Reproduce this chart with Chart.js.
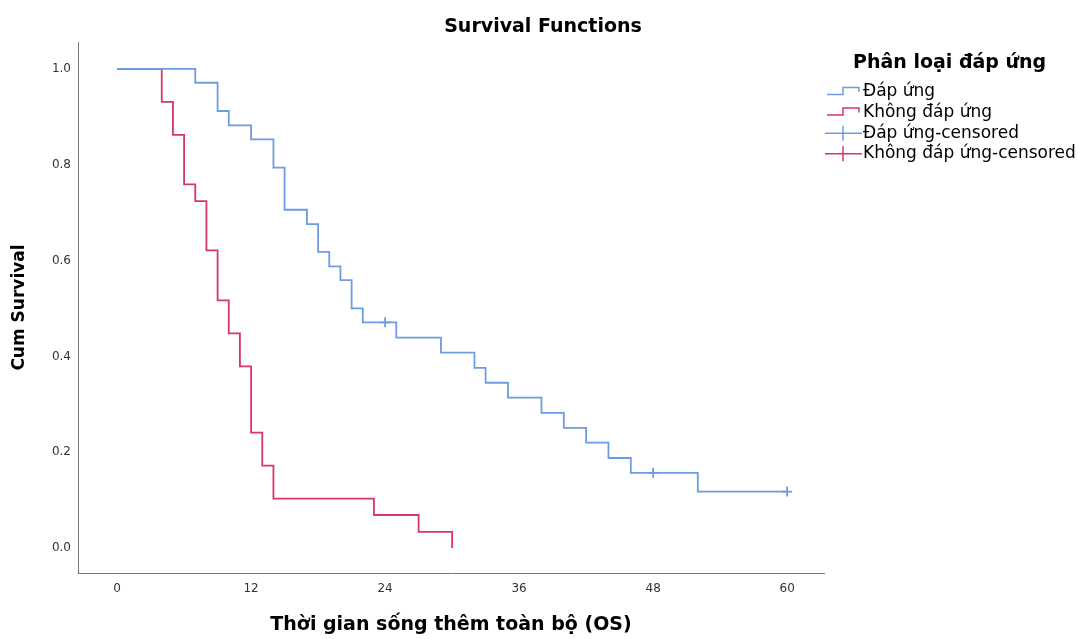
<!DOCTYPE html>
<html>
<head>
<meta charset="utf-8">
<title>Survival Functions</title>
<script src="https://cdn.jsdelivr.net/npm/chart.js"></script>
<style>
  html, body { margin: 0; padding: 0; background: #fff; }
  #wrap { width: 1078px; height: 639px; }
</style>
</head>
<body>
<div id="wrap"><canvas id="chart"></canvas></div>
<script>
// Kaplan-Meier steps (months -> cum survival)
const respTimes = [0, 7, 9, 10, 12, 14, 15, 17, 18, 19, 20, 21, 22, 25, 29, 32, 33, 35, 38, 40, 42, 44, 46, 52, 60];
const respSurv = [1.0, 0.971, 0.912, 0.882, 0.853, 0.794, 0.706, 0.676, 0.618, 0.588, 0.559, 0.500, 0.471, 0.439, 0.408, 0.376, 0.345, 0.314, 0.282, 0.251, 0.220, 0.188, 0.157, 0.118, 0.118];

const nonRespTimes = [0, 4, 5, 6, 7, 8, 9, 10, 11, 12, 13, 14, 23, 27, 30];
const nonRespSurv = [1.0, 0.931, 0.862, 0.759, 0.724, 0.621, 0.517, 0.448, 0.379, 0.241, 0.172, 0.103, 0.069, 0.034, 0.0];

// censored cases
const respCensTimes = [24, 48, 60];
const respCensSurv = [0.471, 0.157, 0.118];
const nonRespCensTimes = [];
const nonRespCensSurv = [];

const xTicks = [0, 12, 24, 36, 48, 60];
const yTicks = [0, 0.2, 0.4, 0.6, 0.8, 1.0];

const seriesLabels = ['Đáp ứng', 'Không đáp ứng', 'Đáp ứng-censored', 'Không đáp ứng-censored'];
const legendTitle = 'Phân loại đáp ứng';

const BLUE = '#6c9ce2';
const RED = '#d6366a';
const FONT = '"DejaVu Sans", sans-serif';

const toPoints = (xs, ys) => xs.map((x, i) => ({ x: x, y: ys[i] }));

// legend drawn by hand so it can sit right next to the plot like SPSS does
const kmLegend = {
  id: 'kmLegend',
  afterDraw(chart) {
    const ctx = chart.ctx;
    const gx = chart.chartArea.right + 3;
    ctx.save();
    ctx.fillStyle = '#000';
    ctx.textBaseline = 'middle';
    ctx.textAlign = 'left';
    ctx.font = 'bold 19px ' + FONT;
    ctx.fillText(legendTitle, gx + 26, 63);

    ctx.font = '17px ' + FONT;
    const colors = [BLUE, RED, BLUE, RED];
    seriesLabels.forEach((label, i) => {
      const y = 92 + i * 20.6;
      ctx.strokeStyle = colors[i];
      ctx.lineWidth = 1.5;
      ctx.beginPath();
      if (i < 2) {
        ctx.moveTo(gx, y + 2.5);
        ctx.lineTo(gx + 16, y + 2.5);
        ctx.lineTo(gx + 16, y - 4.5);
        ctx.lineTo(gx + 32, y - 4.5);
        ctx.lineTo(gx + 32, y);
      } else {
        ctx.moveTo(gx - 2, y);
        ctx.lineTo(gx + 35, y);
        ctx.moveTo(gx + 16, y - 7.5);
        ctx.lineTo(gx + 16, y + 7.5);
      }
      ctx.stroke();
      ctx.fillStyle = '#000';
      ctx.fillText(label, gx + 36, y);
    });
    ctx.restore();
  }
};

const ctx = document.getElementById('chart').getContext('2d');
const chart = new Chart(ctx, {
  type: 'line',
  data: {
    datasets: [{
      label: seriesLabels[0],
      data: toPoints(respTimes, respSurv),
      stepped: true,
      borderColor: BLUE,
      borderWidth: 1.8,
      pointRadius: 0,
      fill: false
    }, {
      label: seriesLabels[1],
      data: toPoints(nonRespTimes, nonRespSurv),
      stepped: true,
      borderColor: RED,
      borderWidth: 1.8,
      pointRadius: 0,
      fill: false
    }, {
      label: seriesLabels[2],
      data: toPoints(respCensTimes, respCensSurv),
      showLine: false,
      pointStyle: 'cross',
      pointRadius: 5,
      borderColor: BLUE,
      borderWidth: 1.8
    }, {
      label: seriesLabels[3],
      data: toPoints(nonRespCensTimes, nonRespCensSurv),
      showLine: false,
      pointStyle: 'cross',
      pointRadius: 5,
      borderColor: RED,
      borderWidth: 1.8
    }]
  },
  options: {
    responsive: true,
    maintainAspectRatio: false,
    animation: false,
    layout: { padding: { left: 8, right: 0, top: 0, bottom: 0 } },
    plugins: {
      legend: { display: false },
      tooltip: { enabled: false },
      title: {
        display: true,
        text: 'Survival Functions',
        color: '#000',
        font: { family: FONT, size: 19, weight: 'bold' },
        padding: { top: 16, bottom: 3.2 }
      }
    },
    scales: {
      x: {
        type: 'linear',
        min: -3.5,
        max: 63.3,
        grid: { display: false, drawTicks: false },
        border: { display: true, color: '#777', width: 1 },
        afterBuildTicks: (s) => { s.ticks = xTicks.map(v => ({ value: v })); },
        afterFit: (s) => { s.height = 66; },
        ticks: {
          color: '#333',
          font: { family: FONT, size: 12 },
          padding: 9,
          maxRotation: 0
        },
        title: {
          display: true,
          text: 'Thời gian sống thêm toàn bộ (OS)',
          color: '#000',
          font: { family: FONT, size: 19, weight: 'bold' },
          padding: { top: 0, bottom: 3 }
        }
      },
      y: {
        min: -0.052,
        max: 1.056,
        grid: { display: false, drawTicks: false },
        border: { display: true, color: '#777', width: 1 },
        afterBuildTicks: (s) => { s.ticks = yTicks.map(v => ({ value: v })); },
        afterFit: (s) => { s.width = 70; },
        ticks: {
          color: '#333',
          font: { family: FONT, size: 12 },
          padding: 7,
          callback: (v) => Number(v).toFixed(1)
        },
        title: {
          display: true,
          text: 'Cum Survival',
          color: '#000',
          font: { family: FONT, size: 17, weight: 'bold' },
          padding: { top: 1, bottom: 0 }
        }
      },
      // empty axis that only keeps room for the legend on the right
      legendSpace: {
        position: 'right',
        display: true,
        grid: { display: false, drawTicks: false },
        border: { display: false },
        ticks: { display: false },
        afterFit: (s) => { s.width = 254; }
      }
    }
  },
  plugins: [kmLegend]
});
</script>
</body>
</html>
